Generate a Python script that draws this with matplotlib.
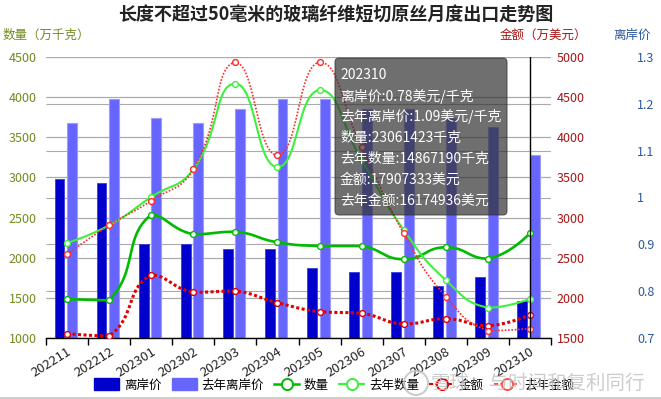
import numpy as np
import matplotlib
matplotlib.use("Agg")
import matplotlib.pyplot as plt
from matplotlib.patches import Patch, FancyBboxPatch, Circle
from matplotlib.lines import Line2D
from matplotlib.transforms import IdentityTransform

plt.rcParams['font.family'] = ['Noto Sans CJK SC', 'DejaVu Sans']

# monthly export data
months = ['202211', '202212', '202301', '202302', '202303', '202304',
          '202305', '202306', '202307', '202308', '202309', '202310']
price = [1.04, 1.03, 0.90, 0.90, 0.89, 0.89, 0.85, 0.84, 0.84, 0.81, 0.83, 0.78]
price_ly = [1.16, 1.21, 1.17, 1.16, 1.19, 1.21, 1.21, 1.19, 1.19, 1.17, 1.15, 1.09]
qty = [1486, 1470, 2536, 2292, 2324, 2192, 2146, 2146, 1980, 2130, 1988, 2306]
qty_ly = [2183, 2404, 2756, 3101, 4168, 3126, 4089, 3217, 2345, 1722, 1377, 1487]
amount = [1554, 1525, 2285, 2069, 2085, 1940, 1828, 1808, 1674, 1740, 1653, 1791]
amount_ly = [2542, 2904, 3210, 3601, 4934, 3776, 4934, 3873, 2804, 2015, 1591, 1617]

tooltip = ['202310',
           '离岸价:0.78美元/千克',
           '去年离岸价:1.09美元/千克',
           '数量:23061423千克',
           '去年数量:14867190千克',
           '金额:17907333美元',
           '去年金额:16174936美元']

OLIVE = '#6f8c1c'
DRED = '#a81414'
BLUE = '#2a58a0'
W, H = 661, 399

fig = plt.figure(figsize=(W / 100, H / 100), dpi=100)
ax = fig.add_axes([46 / W, 1 - 338 / H, 505 / W, 281 / H])   # price (bars)
axq = ax.twinx()   # quantity, left
axa = ax.twinx()   # amount, right
ax.set_zorder(0)
axq.set_zorder(1)
axa.set_zorder(2)

x = np.arange(len(months))
ax.set_xlim(-0.5, len(months) - 0.5)
ax.set_ylim(0.7, 1.3)
ax.set_yticks(np.round(np.arange(0.7, 1.31, 0.1), 1))
axq.set_ylim(1000, 4500)
axq.set_yticks(np.arange(1000, 4501, 500))
axa.set_ylim(1500, 5000)
axa.set_yticks(np.arange(1500, 5001, 500))

for a in (ax, axq, axa):
    for s in a.spines.values():
        s.set_visible(False)
ax.spines['bottom'].set_visible(True)
ax.spines['bottom'].set_color('black')
ax.spines['bottom'].set_linewidth(1)

# tick styling
ax.yaxis.tick_right()
ax.tick_params(axis='y', length=0, pad=62, labelsize=9, labelcolor=BLUE)
axq.yaxis.tick_left()
axq.tick_params(axis='y', length=0, pad=6.5, labelsize=9, labelcolor=OLIVE)
axa.tick_params(axis='y', length=0, pad=4, labelsize=9, labelcolor=DRED)
ax.set_yticklabels([f'{v:g}' for v in ax.get_yticks()])

ax.set_xticks(x)
ax.set_xticklabels(months, rotation=32, ha='right', va='top',
                   rotation_mode='anchor', fontsize=9.5, color='#222222')
ax.set_xticks(np.arange(-0.5, len(months), 1), minor=True)
ax.tick_params(axis='x', which='major', length=0, pad=5)
ax.tick_params(axis='x', which='minor', length=5, width=1, color='black')

# gridlines for all three value axes
for a in (ax, axq, axa):
    lo, hi = a.get_ylim()
    fr = [(t - lo) / (hi - lo) for t in a.get_yticks()]
    ax.hlines(fr, 0, 1, transform=ax.transAxes, color='#aaaaaa', lw=0.8, zorder=0.5)

# bars
ax.bar(x - 0.18, price, width=0.235, color='#0000cc', edgecolor='#3b3bdd',
       lw=0.6, zorder=2)
ax.bar(x + 0.12, price_ly, width=0.235, color='#6666ff', edgecolor='#9c9cff',
       lw=0.8, zorder=2)


def clamp(v, a, b):
    return np.minimum(np.maximum(v, np.minimum(a, b)), np.maximum(a, b))


def smooth_line(a, xs, ys, s=0.5, n=24):
    # bezier smoothing in screen space, control points kept between neighbours
    pts = a.transData.transform(np.column_stack([xs, ys]))
    m = len(pts)
    cin = pts.copy()
    cout = pts.copy()
    for i in range(1, m - 1):
        prev, p, nxt = pts[i - 1], pts[i], pts[i + 1]
        v = nxt - prev
        d0 = np.hypot(*(p - prev))
        d1 = np.hypot(*(p - nxt))
        r = d1 / (d0 + d1)
        cin[i] = clamp(p - v * s * (1 - r), prev, p)
        cout[i] = clamp(p + v * s * r, p, nxt)
    t = np.linspace(0, 1, n)[:, None]
    segs = []
    for i in range(m - 1):
        p0, p1, p2, p3 = pts[i], cout[i], cin[i + 1], pts[i + 1]
        b = ((1 - t) ** 3) * p0 + 3 * ((1 - t) ** 2) * t * p1 \
            + 3 * (1 - t) * t ** 2 * p2 + t ** 3 * p3
        segs.append(b if i == 0 else b[1:])
    curve = a.transData.inverted().transform(np.vstack(segs))
    return curve[:, 0], curve[:, 1]


series = [
    (axq, qty, '#00bb00', 1.9, '-', 3),
    (axq, qty_ly, '#3cf03c', 1.5, '-', 3),
    (axa, amount, '#e00000', 2.2, (0, (1, 0.8)), 4),
    (axa, amount_ly, '#ff2a2a', 1.2, (0, (1, 1)), 4),
]
for a, ys, col, lw, ls, z in series:
    cx, cy = smooth_line(a, x, ys)
    a.plot(cx, cy, color=col, lw=lw, ls=ls, zorder=z, solid_capstyle='round')
    a.plot(x, ys, ls='none', marker='o', ms=4.2, mfc='white', mec=col,
           mew=1.0, zorder=z + 1)

# axis pointer at hovered month
axa.axvline(x[-1], color='black', lw=1, zorder=6)

# titles and axis names
fig.text(336 / W, 1 - 14 / H, '长度不超过50毫米的玻璃纤维短切原丝月度出口走势图',
         ha='center', va='center', fontsize=13, fontweight='bold', color='#222222')
fig.text(3 / W, 1 - 35 / H, '数量（万千克）', ha='left', va='center',
         fontsize=9, color=OLIVE)
fig.text(587 / W, 1 - 35 / H, '金额（万美元）', ha='right', va='center',
         fontsize=9, color=DRED)
fig.text(632 / W, 1 - 35 / H, '离岸价', ha='center', va='center',
         fontsize=9, color=BLUE)

# legend
handles = [
    Patch(facecolor='#0000cc', edgecolor='#0000cc'),
    Patch(facecolor='#6666ff', edgecolor='#6666ff'),
    Line2D([], [], color='#00bb00', lw=1.8, marker='o', ms=8, mfc='white', mew=1.4),
    Line2D([], [], color='#3cf03c', lw=1.5, marker='o', ms=8, mfc='white', mew=1.4),
    Line2D([], [], color='#e00000', lw=1.5, ls=(0, (2, 1)), marker='o', ms=8,
           mfc='white', mew=1.4),
    Line2D([], [], color='#ff5050', lw=1.5, ls=(0, (2, 1)), marker='o', ms=8,
           mfc='white', mew=1.4),
]
labels = ['离岸价', '去年离岸价', '数量', '去年数量', '金额', '去年金额']
fig.legend(handles, labels, loc='center', bbox_to_anchor=(334 / W, 1 - 385 / H),
           ncol=6, frameon=False, fontsize=9, handlelength=2.0, handleheight=1.1,
           handletextpad=0.4, columnspacing=0.8, borderaxespad=0)

# watermark
fig.text(538 / W, 1 - 383 / H, '雪球：与时间和复利同行', ha='center', va='center',
         fontsize=14, color='#c4c4c4', alpha=0.85, zorder=20)
fig.add_artist(Circle((416, H - 383), 12, transform=IdentityTransform(),
                      fill=False, ec='#c4c4c4', lw=1.5, alpha=0.85, zorder=20))

# bottom border
fig.add_artist(Line2D([0, 1], [1 - 398 / H] * 2, transform=fig.transFigure,
                      color='#cccccc', lw=2, zorder=20))

# tooltip
fig.add_artist(FancyBboxPatch((335, H - 215), 172, 157,
                              boxstyle='round,pad=0,rounding_size=4',
                              transform=IdentityTransform(),
                              fc=(50 / 255, 50 / 255, 50 / 255, 0.7),
                              ec=(0.2, 0.2, 0.2, 0.7), lw=0.8, zorder=30))
for i, line in enumerate(tooltip):
    fig.text(340 / W, 1 - (75 + 21 * i) / H, line, ha='left', va='center',
             fontsize=10, color='white', zorder=31)

fig.savefig('out.png', dpi=100)
